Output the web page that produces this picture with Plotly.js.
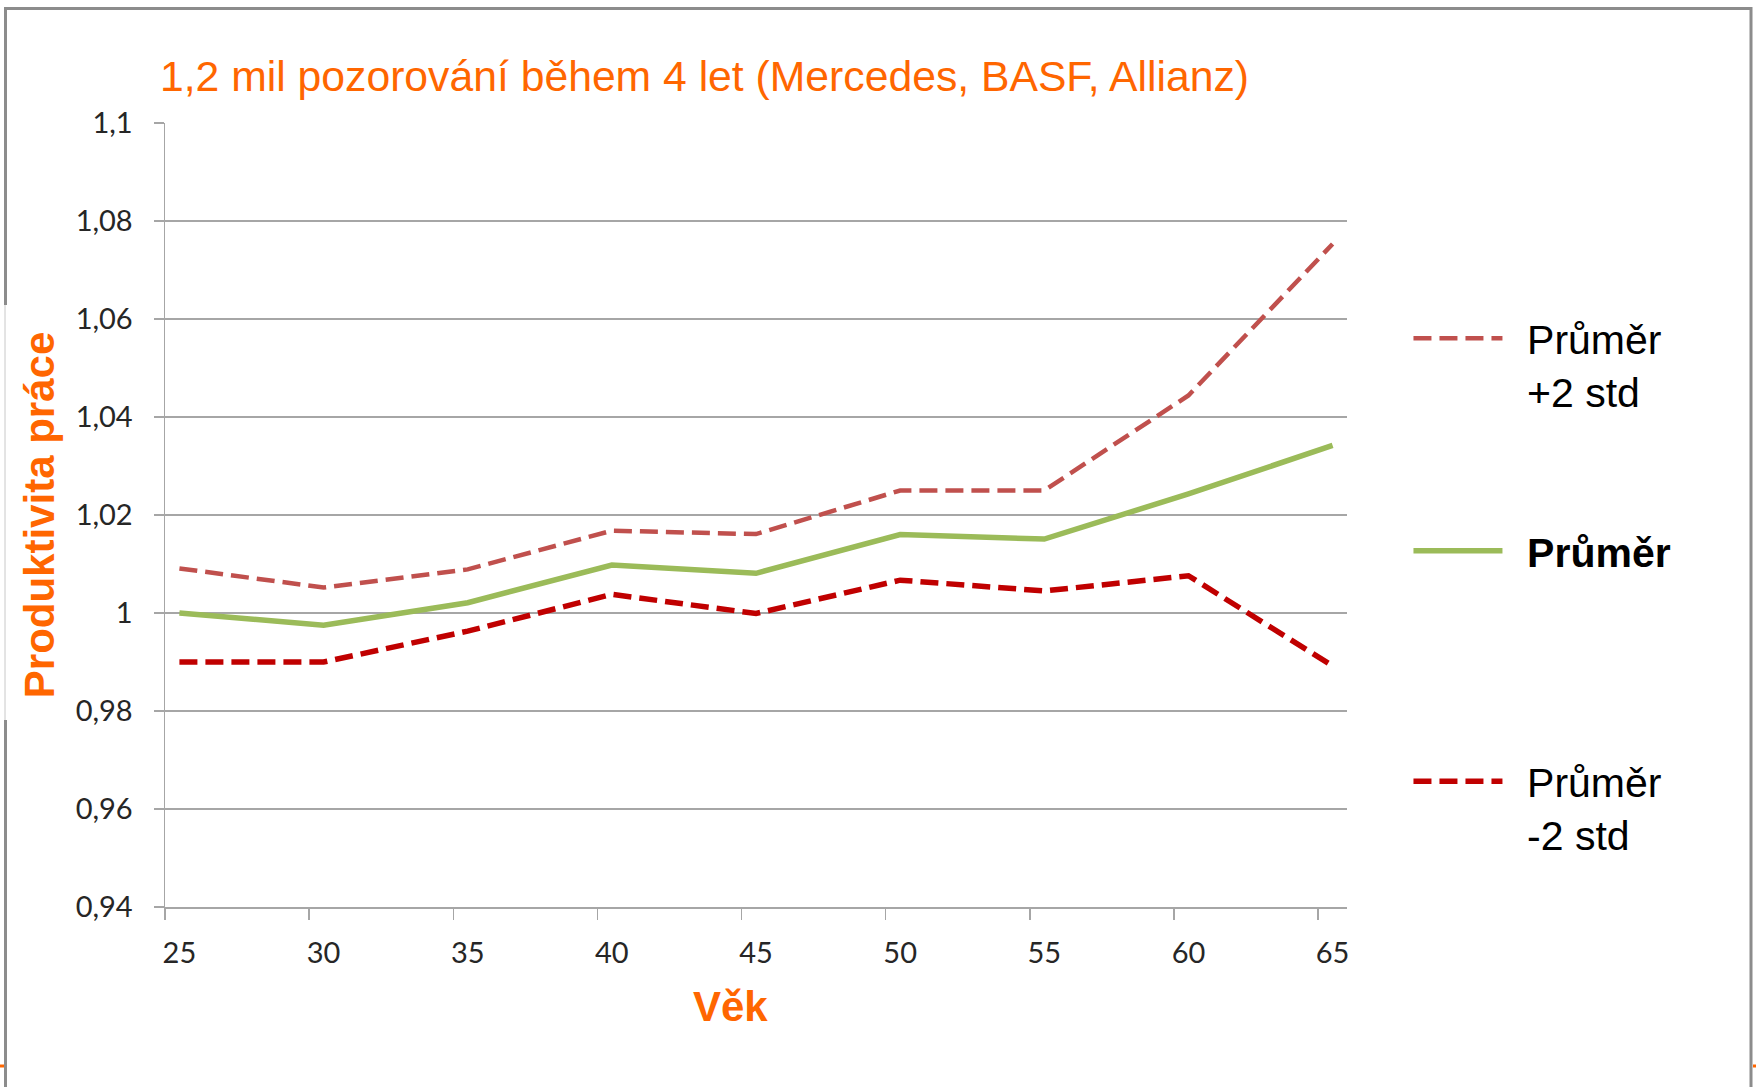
<!DOCTYPE html>
<html>
<head>
<meta charset="utf-8">
<script src="https://cdn.plot.ly/plotly-3.0.1.min.js"></script>
<style>
  html, body { margin: 0; padding: 0; background: #fff; }
  #chart { width: 1756px; height: 1087px; }
</style>
</head>
<body>
<div id="chart"></div>
<script>
// věk (x) a hodnoty produktivity pro jednotlivé řady
const ages = [25, 30, 35, 40, 45, 50, 55, 60, 65];
const meanPlus2 = [1.0091, 1.0052, 1.0089, 1.0168, 1.0161, 1.0250, 1.0250, 1.0444, 1.0753];
const meanVals = [1.0000, 0.9975, 1.0021, 1.0098, 1.0081, 1.0160, 1.0151, 1.0243, 1.0342];
const meanMinus2 = [0.9900, 0.9900, 0.9963, 1.0038, 0.9999, 1.0067, 1.0045, 1.0076, 0.9892];

const orange = "#FF6600";
const grid = "#A6A6A6";
const textFont = "Liberation Sans, Arial, sans-serif";
const pad = "\u00A0\u2009";

const tracePlus = {
  x: ages, y: meanPlus2, type: "scatter", mode: "lines",
  name: pad + "Průměr<br>" + pad + "+2 std",
  line: { color: "#C0504D", width: 4.5, dash: "18px,8px" },
  legend: "legend",
};
const traceMean = {
  x: ages, y: meanVals, type: "scatter", mode: "lines",
  name: pad + "<b>Průměr</b>",
  line: { color: "#9BBB59", width: 5.5 },
  legend: "legend2",
};
const traceMinus = {
  x: ages, y: meanMinus2, type: "scatter", mode: "lines",
  name: pad + "Průměr<br>" + pad + "-2 std",
  line: { color: "#C00000", width: 5.5, dash: "18px,8px" },
  legend: "legend3",
};

const legendBase = {
  xanchor: "left",
  x: 1.052,
  bgcolor: "rgba(0,0,0,0)",
  font: { family: textFont, size: 41, color: "#000" },
  itemwidth: 89,
  valign: "top",
};

// převod pixelů na souřadnice papíru
const px = (v) => (v - 165) / 1182;
const py = (v) => (907 - v) / 784;
const frame = "#8C8C8C";
const tickFont = { family: "Lato, sans-serif", size: 29, color: "#262626" };

const layout = {
  width: 1756,
  height: 1087,
  margin: { l: 165, r: 409, t: 123, b: 180 },
  paper_bgcolor: "#fff",
  plot_bgcolor: "#fff",
  separators: ", ",
  showlegend: true,
  title: {
    text: "1,2 mil pozorování během 4 let (Mercedes, BASF, Allianz)",
    font: { family: textFont, size: 42.7, color: orange },
    xref: "container", yref: "container",
    x: 160 / 1756, xanchor: "left",
    y: 1 - 76 / 1087, yanchor: "middle",
  },
  xaxis: {
    range: [24.5, 65.5],
    tickvals: ages,
    ticktext: ages.map(String),
    ticks: "",
    ticklabelstandoff: 19,
    // značky mezi kategoriemi
    minor: {
      tickvals: ages.map((a) => a - 0.5),
      ticks: "outside", ticklen: 11, tickcolor: grid, tickwidth: 1.5,
      showgrid: false,
    },
    showgrid: false, zeroline: false,
    showline: true, linecolor: grid, linewidth: 2,
    tickfont: tickFont,
  },
  yaxis: {
    range: [0.94, 1.1],
    tick0: 0.94, dtick: 0.02,
    ticks: "outside", ticklen: 10, tickcolor: grid, tickwidth: 1.5,
    ticklabelstandoff: 15,
    showgrid: true, gridcolor: grid, gridwidth: 2,
    zeroline: false,
    showline: true, linecolor: grid, linewidth: 1.5,
    tickfont: tickFont,
    title: {
      text: "<b>Produktivita práce</b>",
      font: { family: textFont, size: 42, color: orange },
      standoff: 8,
    },
  },
  annotations: [
    {
      text: "<b>Věk</b>", xref: "paper", yref: "paper",
      x: px(730), y: py(1006), xanchor: "center", yanchor: "middle",
      showarrow: false,
      font: { family: textFont, size: 42, color: orange },
    },
  ],
  legend: Object.assign({}, legendBase, { y: py(305), yanchor: "top" }),
  legend2: Object.assign({}, legendBase, { y: py(551), yanchor: "middle" }),
  legend3: Object.assign({}, legendBase, { y: py(748), yanchor: "top" }),
  shapes: [
    // horní, pravá a levá hrana rámečku
    { type: "line", xref: "paper", yref: "paper", x0: px(4), x1: px(1752), y0: py(8.5), y1: py(8.5), line: { color: frame, width: 3 } },
    { type: "line", xref: "paper", yref: "paper", x0: px(1751), x1: px(1751), y0: py(7), y1: py(1090), line: { color: frame, width: 3 } },
    { type: "line", xref: "paper", yref: "paper", x0: px(5.5), x1: px(5.5), y0: py(7), y1: py(305), line: { color: frame, width: 3 } },
    { type: "line", xref: "paper", yref: "paper", x0: px(5.5), x1: px(5.5), y0: py(720), y1: py(1090), line: { color: frame, width: 3 } },
    { type: "line", xref: "paper", yref: "paper", x0: px(5), x1: px(5), y0: py(305), y1: py(720), line: { color: "#C8C8C8", width: 1 } },
    // oranžové značky dole
    { type: "line", xref: "paper", yref: "paper", x0: px(0), x1: px(4), y0: py(1066), y1: py(1066), line: { color: orange, width: 3 } },
    { type: "line", xref: "paper", yref: "paper", x0: px(1753), x1: px(1756), y0: py(1066), y1: py(1066), line: { color: orange, width: 3 } },
  ],
};

Plotly.newPlot("chart", [tracePlus, traceMean, traceMinus], layout, { displayModeBar: false, staticPlot: true });
</script>
</body>
</html>
